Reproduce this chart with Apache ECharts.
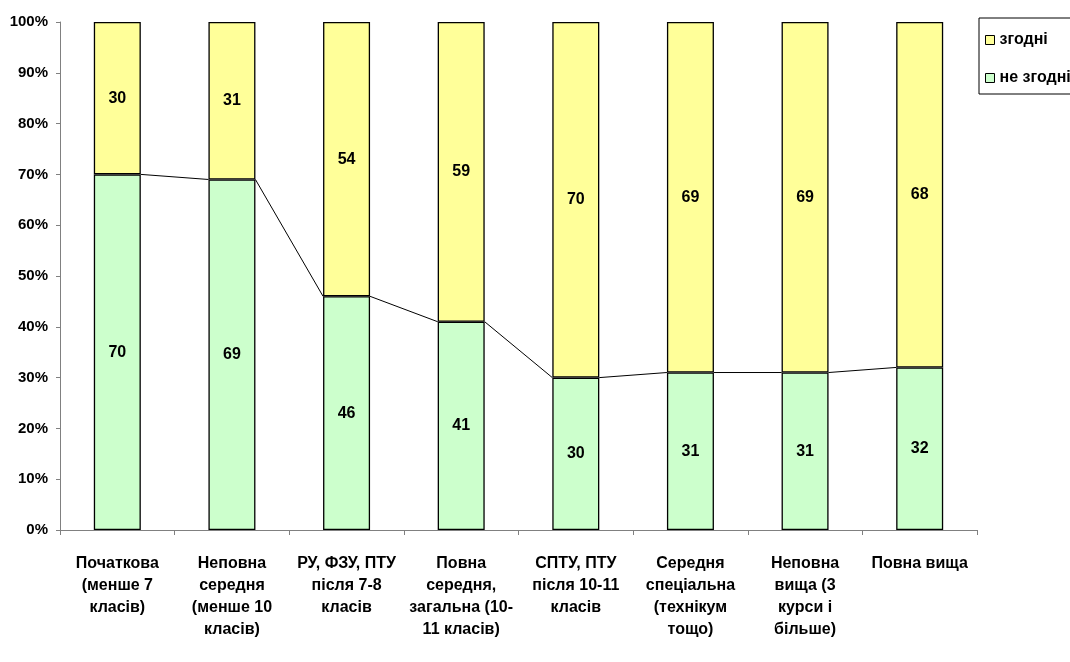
<!DOCTYPE html>
<html>
<head>
<meta charset="utf-8">
<script src="https://cdn.jsdelivr.net/npm/echarts@6/dist/echarts.min.js"></script>
<style>
html,body{margin:0;padding:0;background:#fff;}
#chart{width:1070px;height:662px;}
</style>
</head>
<body>
<div id="chart"></div>
<script>
const categories = [
  'Початкова\n(менше 7\nкласів)',
  'Неповна\nсередня\n(менше 10\nкласів)',
  'РУ, ФЗУ, ПТУ\nпісля 7-8\nкласів',
  'Повна\nсередня,\nзагальна (10-\n11 класів)',
  'СПТУ, ПТУ\nпісля 10-11\nкласів',
  'Середня\nспеціальна\n(технікум\nтощо)',
  'Неповна\nвища (3\nкурси і\nбільше)',
  'Повна вища'
];
const disagree = [70, 69, 46, 41, 30, 31, 31, 32];   // не згодні
const agree    = [30, 31, 54, 59, 70, 69, 69, 68];   // згодні
const yTicks = [0, 10, 20, 30, 40, 50, 60, 70, 80, 90, 100];

const FONT = '"Liberation Sans", Arial, sans-serif';
const totals = disagree.map((v, i) => v + agree[i]);
const pctDis = disagree.map((v, i) => v / totals[i] * 100);
const pctAgr = agree.map((v, i) => v / totals[i] * 100);
const BAR_RATIO = 0.41;

const lineData = pctDis.slice(0, -1).map((v, i) => [i, v, pctDis[i + 1]]);

const chart = echarts.init(document.getElementById('chart'));
chart.setOption({
  animation: false,
  backgroundColor: '#ffffff',
  textStyle: { fontFamily: FONT },
  grid: { left: 60, right: 93, top: 22, bottom: 132, containLabel: false },
  legend: {
    orient: 'vertical',
    left: 979, top: 18,
    padding: [12, 40, 6, 6],
    itemGap: 18,
    itemWidth: 9, itemHeight: 9,
    icon: 'rect',
    borderColor: '#000', borderWidth: 1,
    data: ['згодні', 'не згодні'],
    itemStyle: { borderColor: '#000', borderWidth: 1 },
    textStyle: { fontFamily: FONT, fontWeight: 'bold', fontSize: 16, lineHeight: 20, color: '#000' }
  },
  xAxis: {
    type: 'category',
    data: categories,
    axisLine: { lineStyle: { color: '#808080', width: 1 } },
    axisTick: { show: true, length: 5, alignWithLabel: false, lineStyle: { color: '#808080' } },
    axisLabel: {
      interval: 0, margin: 23, lineHeight: 22,
      fontFamily: FONT, fontWeight: 'bold', fontSize: 16, color: '#000'
    },
    splitLine: { show: false }
  },
  yAxis: {
    type: 'value',
    min: yTicks[0], max: yTicks[yTicks.length - 1], interval: 10,
    axisLine: { show: true, lineStyle: { color: '#808080', width: 1 } },
    axisTick: { show: true, length: 4, lineStyle: { color: '#808080' } },
    axisLabel: {
      formatter: v => v + '%', margin: 12,
      fontFamily: FONT, fontWeight: 'bold', fontSize: 15, color: '#000'
    },
    splitLine: { show: false }
  },
  series: [
    {
      name: 'не згодні', type: 'bar', stack: 'total',
      barWidth: (BAR_RATIO * 100) + '%',
      data: pctDis,
      itemStyle: { color: '#CCFFCC', borderColor: '#000', borderWidth: 1.3 },
      label: {
        show: true, position: 'inside',
        formatter: p => disagree[p.dataIndex],
        fontFamily: FONT, fontWeight: 'bold', fontSize: 16, color: '#000'
      }
    },
    {
      name: 'згодні', type: 'bar', stack: 'total',
      barWidth: (BAR_RATIO * 100) + '%',
      data: pctAgr,
      itemStyle: { color: '#FFFF99', borderColor: '#000', borderWidth: 1.3 },
      label: {
        show: true, position: 'inside',
        formatter: p => agree[p.dataIndex],
        fontFamily: FONT, fontWeight: 'bold', fontSize: 16, color: '#000'
      }
    },
    {
      name: 'seriesLines', type: 'custom', z: 5,
      data: lineData,
      encode: { x: 0, y: 1 },
      renderItem: function (params, api) {
        const i = api.value(0);
        const p1 = api.coord([i, api.value(1)]);
        const p2 = api.coord([i + 1, api.value(2)]);
        const half = api.size([1, 0])[0] * BAR_RATIO / 2;
        return {
          type: 'line',
          shape: { x1: p1[0] + half, y1: p1[1], x2: p2[0] - half, y2: p2[1] },
          style: { stroke: '#000', lineWidth: 1 }
        };
      }
    }
  ]
});
</script>
</body>
</html>
